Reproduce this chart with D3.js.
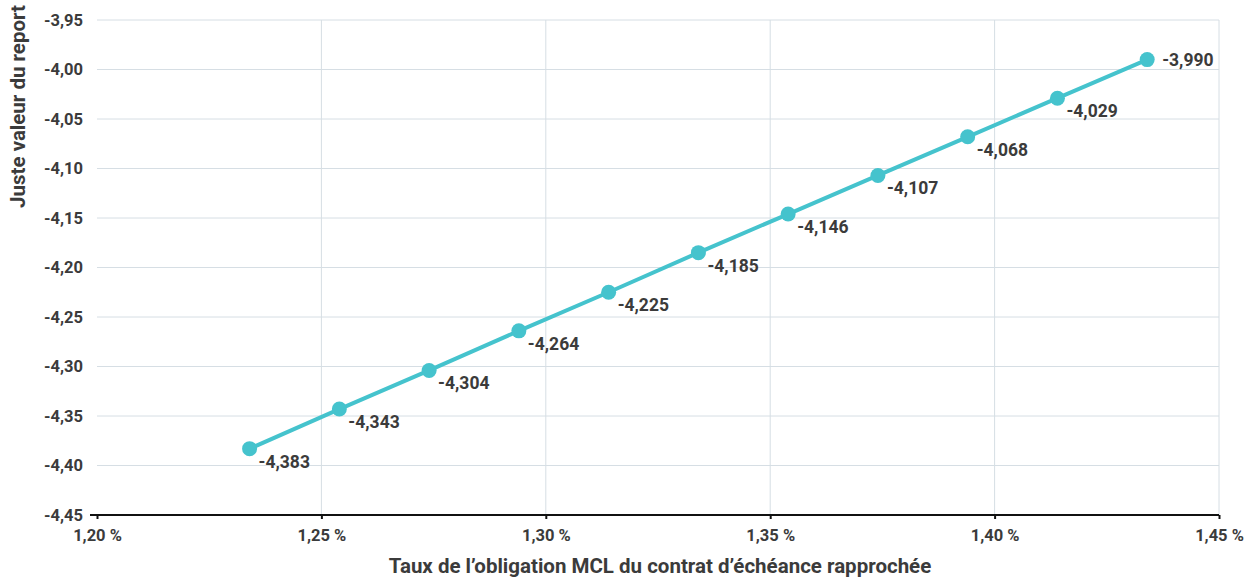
<!DOCTYPE html>
<html>
<head>
<meta charset="utf-8">
<script src="https://cdn.jsdelivr.net/npm/d3@7"></script>
<style>
  body { margin: 0; background: #fff; }
  text { font-family: Roboto, "DejaVu Sans", sans-serif; font-weight: 700; fill: #3b3b3b; }
</style>
</head>
<body>
<div id="chart"></div>
<script>
// Chart data
const rates = [1.234, 1.254, 1.274, 1.294, 1.314, 1.334, 1.354, 1.374, 1.394, 1.414, 1.434];
const values = [-4.383, -4.343, -4.304, -4.264, -4.225, -4.185, -4.146, -4.107, -4.068, -4.029, -3.990];
const xTicks = [1.20, 1.25, 1.30, 1.35, 1.40, 1.45];
const yTicks = [-3.95, -4.00, -4.05, -4.10, -4.15, -4.20, -4.25, -4.30, -4.35, -4.40, -4.45];

const width = 1244, height = 577,
    margin = ({ top: 20, right: 25, bottom: 62, left: 97 });

const data = rates.map((r, i) => ({ rate: r, value: values[i] }));

const svg = d3.select("#chart")
    .append("svg")
    .attr("width", width)
    .attr("height", height);

const x = d3.scaleLinear()
    .domain([1.20, 1.45])
    .range([margin.left, width - margin.right]);

const y = d3.scaleLinear()
    .domain([-4.45, -3.95])
    .range([height - margin.bottom, margin.top]);

const comma = d => d.toFixed(2).replace(".", ",");
const fmt3 = d => d.toFixed(3).replace(".", ",");

// horizontal grid
svg.append("g")
  .selectAll("line")
  .data(yTicks.slice(0, -1))
  .join("line")
    .attr("x1", margin.left)
    .attr("x2", width - margin.right)
    .attr("y1", d => y(d))
    .attr("y2", d => y(d))
    .attr("stroke", "#d6dee4")
    .attr("stroke-width", 1);

// vertical grid
svg.append("g")
  .selectAll("line")
  .data(xTicks.slice(1))
  .join("line")
    .attr("x1", d => x(d))
    .attr("x2", d => x(d))
    .attr("y1", margin.top)
    .attr("y2", height - margin.bottom)
    .attr("stroke", "#d6dee4")
    .attr("stroke-width", 1);

// y tick labels
svg.append("g")
  .selectAll("text")
  .data(yTicks)
  .join("text")
    .attr("x", margin.left - 14)
    .attr("y", d => y(d))
    .attr("dy", "0.35em")
    .attr("text-anchor", "end")
    .attr("font-size", 16.5)
    .text(comma);

// x axis
const xAxis = svg.append("g")
    .attr("transform", `translate(0,${height - margin.bottom})`)
    .call(d3.axisBottom(x).tickValues(xTicks).tickSize(4).tickSizeOuter(0)
      .tickFormat(d => comma(d) + " %"));
xAxis.select(".domain").remove();
xAxis.selectAll(".tick line").attr("stroke", "#111").attr("stroke-width", 2);
xAxis.selectAll(".tick text")
    .attr("font-size", 16.5)
    .attr("font-family", null)
    .attr("fill", "#3b3b3b")
    .attr("dy", "1.15em");
xAxis.append("line")
    .attr("x1", margin.left - 7)
    .attr("x2", width - margin.right)
    .attr("stroke", "#111")
    .attr("stroke-width", 2);

// axis titles
svg.append("text")
    .attr("x", (margin.left + width - margin.right) / 2 + 2)
    .attr("y", height - 4)
    .attr("text-anchor", "middle")
    .attr("font-size", 20.5)
    .text("Taux de l\u2019obligation MCL du contrat d\u2019\u00e9ch\u00e9ance rapproch\u00e9e");

svg.append("text")
    .attr("transform", "rotate(-90)")
    .attr("x", -5)
    .attr("y", 25)
    .attr("text-anchor", "end")
    .attr("font-size", 20.5)
    .text("Juste valeur du report");

// line
const line = d3.line()
    .x(d => x(d.rate))
    .y(d => y(d.value));

svg.append("path")
    .datum(data)
    .attr("d", line)
    .attr("fill", "none")
    .attr("stroke", "#45c3cd")
    .attr("stroke-width", 4);

svg.append("g")
  .selectAll("circle")
  .data(data)
  .join("circle")
    .attr("cx", d => x(d.rate))
    .attr("cy", d => y(d.value))
    .attr("r", 7.5)
    .attr("fill", "#45c3cd");

// data labels
const last = data.length - 1;
svg.append("g")
  .selectAll("text")
  .data(data)
  .join("text")
    .attr("x", (d, i) => x(d.rate) + (i === last ? 15 : 9))
    .attr("y", (d, i) => y(d.value) + (i === last ? 6 : 19))
    .attr("font-size", 17.5)
    .text(d => fmt3(d.value));
</script>
</body>
</html>
